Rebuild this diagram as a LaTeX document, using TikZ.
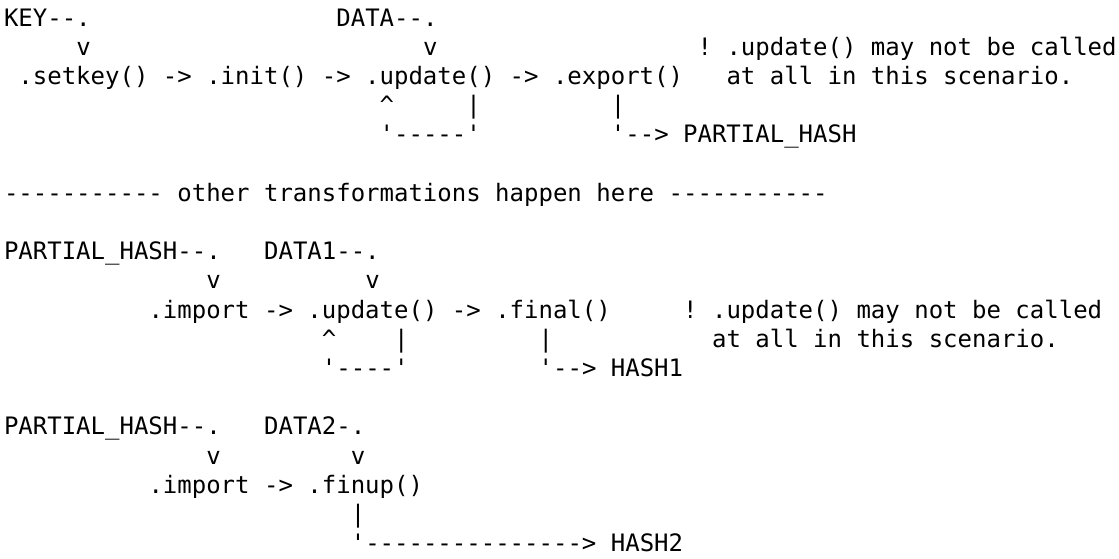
\documentclass[tikz,border=0pt]{standalone}
\usepackage{fontspec}
\setmonofont{DejaVu Sans Mono}
\newcommand\T[4]{\node[txt] (#1) at ({4+14.45*#2},{26+29.2*#3}) {#4};}
\begin{document}
\begin{tikzpicture}[x=0.75pt,y=-0.75pt,
  txt/.style={anchor=base west,inner sep=0pt,outer sep=0pt,text=black,
    font=\ttfamily\fontsize{18}{21.9}\selectfont}]
\useasboundingbox[fill=white] (0,0) rectangle (1119,558);
% --- first scenario
\T{key}{0}{0}{KEY--.}
\T{data}{23}{0}{DATA--.}
\T{vkey}{5}{1}{v}
\T{vdata}{29}{1}{v}
\T{notea}{48}{1}{! .update() may not be called}
\T{chaina}{1}{2}{.setkey() -> .init() -> .update() -> .export()}
\T{noteb}{50}{2}{at all in this scenario.}
\T{loopup}{26}{3}{\textasciicircum}
\T{loopdn}{32}{3}{|}
\T{expdn}{42}{3}{|}
\T{loopa}{26}{4}{'-----'}
\T{phash}{42}{4}{'--> PARTIAL\_HASH}
% --- separator
\T{sep}{0}{6}{----------- other transformations happen here -----------}
% --- second scenario
\T{phb}{0}{8}{PARTIAL\_HASH--.}
\T{data1}{18}{8}{DATA1--.}
\T{vphb}{14}{9}{v}
\T{vdata1}{25}{9}{v}
\T{chainb}{10}{10}{.import -> .update() -> .final()}
\T{notec}{47}{10}{! .update() may not be called}
\T{loopupb}{22}{11}{\textasciicircum}
\T{loopdnb}{27}{11}{|}
\T{findn}{37}{11}{|}
\T{noted}{49}{11}{at all in this scenario.}
\T{loopb}{22}{12}{'----'}
\T{hash1}{37}{12}{'--> HASH1}
% --- third scenario
\T{phc}{0}{14}{PARTIAL\_HASH--.}
\T{data2}{18}{14}{DATA2-.}
\T{vphc}{14}{15}{v}
\T{vdata2}{24}{15}{v}
\T{chainc}{10}{16}{.import -> .finup()}
\T{finupdn}{24}{17}{|}
\T{hash2}{24}{18}{'---------------> HASH2}
\end{tikzpicture}
\end{document}
